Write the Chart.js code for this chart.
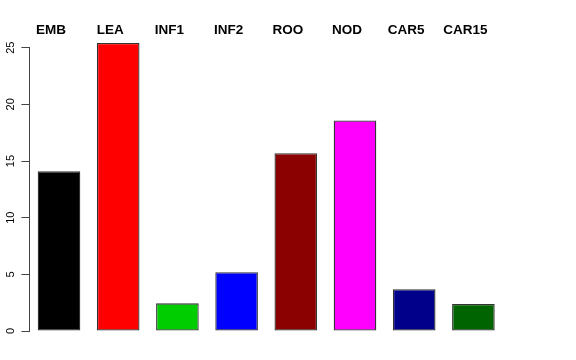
<!DOCTYPE html>
<html>
<head>
<meta charset="utf-8">
<script src="https://cdn.jsdelivr.net/npm/chart.js@4"></script>
<style>
html,body{margin:0;padding:0;background:#fff;}
#wrap{width:576px;height:360px;}
</style>
</head>
<body>
<div id="wrap"><canvas id="grafik"></canvas></div>
<script>
const categories = ['EMB','LEA','INF1','INF2','ROO','NOD','CAR5','CAR15'];
const values = [14.1, 25.42, 2.44, 5.18, 15.68, 18.57, 3.68, 2.38];
const barColors = ['#000000','#FF0000','#00CD00','#0000FF','#8B0000','#FF00FF','#00008B','#006400'];
const yTicks = [0,5,10,15,20,25];

const ctx = document.getElementById("grafik");

const chart = new Chart(ctx,{
type:'bar',
data:{
labels:categories,
datasets:[{
data:values,
backgroundColor:barColors,
borderColor:'#333',
borderWidth:1.3,
borderSkipped:false,
categoryPercentage:1,
barPercentage:0.72,
clip:false
}]
},
options:{
responsive:true,
maintainAspectRatio:false,
animation:false,
layout:{padding:{top:0,left:0,right:73,bottom:29}},
plugins:{legend:{display:false},tooltip:{enabled:false}},
scales:{
x:{
position:'top',
grid:{display:false,drawTicks:false},
border:{display:false},
ticks:{
color:'#000',
padding:9,
labelOffset:-8,
maxRotation:0,
autoSkip:false,
font:{family:'Liberation Sans, Arial, sans-serif',size:13.5,weight:'bold'}
},
afterFit(scale){scale.height=47.7;}
},
y:{
min:0,
max:25,
afterBuildTicks(scale){scale.ticks=yTicks.map(v=>({value:v}));},
grid:{drawOnChartArea:false,tickLength:8,color:'#444'},
border:{color:'#444',width:1},
ticks:{
color:'#000',
padding:4,
minRotation:90,
maxRotation:90,
crossAlign:'center',
font:{family:'Liberation Sans, Arial, sans-serif',size:11}
},
afterFit(scale){scale.width=29.4;}
}
}
}
});
</script>
</body>
</html>
